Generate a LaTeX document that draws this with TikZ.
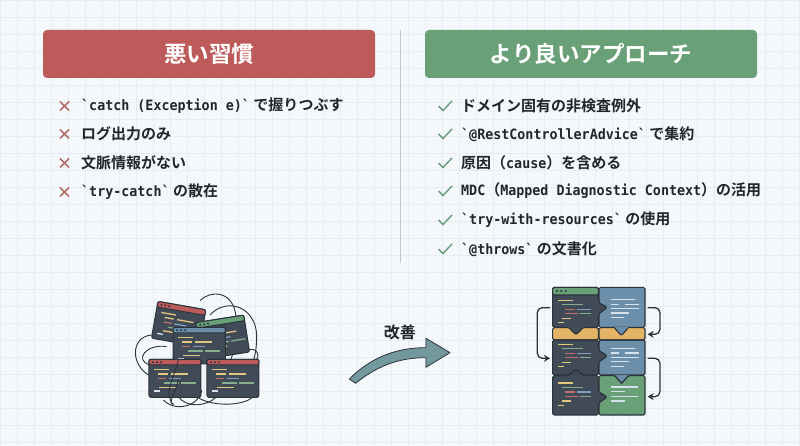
\documentclass[tikz,border=0pt]{standalone}
\usepackage{fontspec}
\newfontfamily\jpb{Noto Sans CJK JP Bold}
\newfontfamily\lat[FakeStretch=0.94]{DejaVu Sans Mono Bold}
\newcommand{\la}[1]{{\lat\fontsize{14.2}{16}\selectfont #1}}
\definecolor{bgc}{HTML}{F4F8FB}
\definecolor{gridc}{HTML}{E6EDF2}
\definecolor{redh}{HTML}{BD5B5B}
\definecolor{greenh}{HTML}{69A077}
\definecolor{blueh}{HTML}{6B8FAB}
\definecolor{orangeh}{HTML}{E3B366}
\definecolor{ink}{HTML}{22262B}
\definecolor{panel}{HTML}{414B57}
\definecolor{edge}{HTML}{2B333B}
\definecolor{crossc}{HTML}{B26C6C}
\definecolor{checkc}{HTML}{6F9F80}
\definecolor{arrowf}{HTML}{73999F}
\definecolor{cy}{HTML}{E3C77E}
\definecolor{cr}{HTML}{C46E6E}
\definecolor{cb}{HTML}{7F9FBD}
\definecolor{cg}{HTML}{87AF8C}
\definecolor{cw}{HTML}{D5E2EC}
\tikzset{
 header/.style={rounded corners=4pt,minimum width=332pt,minimum height=48pt,inner sep=0pt,text=white,font=\jpb\fontsize{22.5}{26}\selectfont},
 item/.style={anchor=west,inner sep=0pt,text=ink,font=\jpb\fontsize{15}{18}\selectfont},
 mark cross/.style={draw=crossc,line width=1.5pt},
 mark check/.style={draw=checkc,line width=1.5pt},
 tangle/.style={draw=edge,line width=0.9pt},
 win/.style={fill=panel,draw=edge,line width=1pt,rounded corners=2pt},
 code/.style={line width=1.3pt},
 loop/.style={draw=#1,line width=1.3pt,rounded corners=5pt,-{Stealth[length=6pt,width=7pt]}},
 loop/.default=edge
}
\usetikzlibrary{arrows.meta}
% window: centre x,y (zoom units) w h colour rotation
\newcommand{\winbox}[6]{%
 \begin{scope}[shift={(#1,#2)},rotate=#6]
  \draw[win] (-#3/2,-#4/2) rectangle (#3/2,#4/2);
  \fill[#5,rounded corners=2pt] (-#3/2,-#4/2) rectangle (#3/2,-#4/2+17);
  \draw[edge,line width=1pt,rounded corners=2pt] (-#3/2,-#4/2+17) -- (-#3/2,-#4/2) -- (#3/2,-#4/2) -- (#3/2,-#4/2+17) -- cycle;
  \foreach \d in {0,1,2}{\fill[edge] (-#3/2+12+\d*12,-#4/2+8.5) circle (1.1pt);}
  \draw[code,cy] (-#3/2+16,-#4/2+31) -- ++(44,0);
  \draw[code,cy] (-#3/2+28,-#4/2+44) -- ++(28,0);
  \draw[code,cy] (-#3/2+66,-#4/2+44) -- ++(50,0);
  \draw[code,cr] (-#3/2+28,-#4/2+58) -- ++(24,0);
  \draw[code,cb] (-#3/2+60,-#4/2+58) -- ++(36,0);
  \draw[code,cg] (-#3/2+44,-#4/2+71) -- ++(46,0);
  \draw[code,cg] (-#3/2+96,-#4/2+71) -- ++(44,0);
  \draw[code,cy] (-#3/2+30,-#4/2+84) -- ++(52,0);
  \draw[code,cw] (-#3/2+14,-#4/2+95) -- ++(18,0);
 \end{scope}}
\newcommand{\codeset}[2]{%
 \begin{scope}[shift={(#1,#2)}]
  \draw[code,cy] (16,0) -- ++(46,0);
  \draw[code,cg] (28,13) -- ++(62,0);
  \draw[code,cr] (36,27) -- ++(32,0);
  \draw[code,cb] (74,27) -- ++(42,0);
  \draw[code,cr] (36,40) -- ++(40,0);
  \draw[code,cg] (82,40) -- ++(32,0);
  \draw[code,cy] (28,54) -- ++(28,0);
  \draw[code,cy] (16,67) -- ++(18,0);
 \end{scope}}
\newcommand{\textset}[3]{%
 \begin{scope}[shift={(#1,#2)}]
  \draw[code,#3] (0,0) -- ++(72,0);
  \draw[code,#3] (0,14) -- ++(26,0);
  \draw[code,#3] (42,14) -- ++(44,0);
  \draw[code,#3] (0,27) -- ++(86,0);
  \draw[code,#3] (0,40) -- ++(56,0);
  \draw[code,#3] (0,54) -- ++(40,0);
 \end{scope}}
\begin{document}
\begin{tikzpicture}[x=1pt,y=-1pt]
\useasboundingbox (0,0) rectangle (800,446);
\fill[bgc] (0,0) rectangle (800,446);
\foreach \g in {0,17,...,800}{\draw[gridc,line width=0.5pt] (\g,0) -- (\g,446);}
\foreach \g in {0,17,...,446}{\draw[gridc,line width=0.5pt] (0,\g) -- (800,\g);}
% headers
\node[header,fill=redh] (badhead) at (209,54) {悪い習慣};
\node[header,fill=greenh] (goodhead) at (591,54) {より良いアプローチ};
\coordinate (divtop) at (400,30);
\coordinate (divbot) at (400,263);
\draw[color=black!22,line width=1pt] (divtop) -- (divbot);
% bad list
\foreach \yy in {106,134,163,192}{
 \draw[mark cross] (60,\yy-4.5) -- (69,\yy+4.5) (69,\yy-4.5) -- (60,\yy+4.5);
}
\node[item] (b1) at (81,106) {\la{`catch (Exception e)`} で握りつぶす};
\node[item] (b2) at (81,134) {ログ出力のみ};
\node[item] (b3) at (81,163) {文脈情報がない};
\node[item] (b4) at (81,192) {\la{`try-catch`} の散在};
% good list
\foreach \yy in {106,134,163,191,220,249}{
 \draw[mark check] (438.5,\yy) -- (443,\yy+4.5) -- (452,\yy-5);
}
\node[item] (g1) at (461,106) {ドメイン固有の非検査例外};
\node[item] (g2) at (461,134) {\la{`@RestControllerAdvice`} で集約};
\node[item] (g3) at (461,163) {原因（\la{cause}）を含める};
\node[item] (g4) at (461,191) {\la{MDC}（\la{Mapped Diagnostic Context}）の活用};
\node[item] (g5) at (461,220) {\la{`try-with-resources`} の使用};
\node[item] (g6) at (461,249) {\la{`@throws`} の文書化};
% tangled windows
\begin{scope}[shift={(110,280)},x=0.3333pt,y=-0.3333pt]
 \draw[tangle] (270,62) .. controls (300,30) and (370,30) .. (378,110) .. controls (385,190) and (360,250) .. (350,270);
 \draw[tangle] (300,105) .. controls (350,50) and (440,80) .. (440,170) .. controls (440,240) and (420,300) .. (350,320);
 \draw[tangle] (125,165) .. controls (60,170) and (60,260) .. (125,290);
 \draw[tangle] (170,200) .. controls (110,190) and (70,240) .. (120,255);
 \draw[tangle] (205,350) .. controls (230,385) and (290,380) .. (320,350);
 \draw[tangle] (260,350) .. controls (300,380) and (400,380) .. (430,350);
 \draw[tangle] (400,215) .. controls (450,190) and (450,240) .. (435,240);
 \winbox{206}{132}{146}{112}{redh}{-10}
 \winbox{338}{172}{146}{112}{greenh}{9}
 \winbox{268}{197}{157}{110}{blueh}{0}
 \winbox{195}{295}{156}{114}{redh}{0}
 \winbox{369}{295}{156}{114}{redh}{0}
 \draw[tangle] (205,240) .. controls (190,300) and (160,340) .. (190,375);
 \draw[tangle] (160,360) .. controls (200,400) and (270,375) .. (275,330);
 \draw[tangle] (190,370) .. controls (170,375) and (200,330) .. (205,300);
\end{scope}
% big arrow
\begin{scope}[shift={(340,310)},x=0.3333pt,y=-0.3333pt]
 \filldraw[fill=arrowf,draw=edge,line width=0.8pt,line join=round] (28,207) .. controls (100,135) and (180,113) .. (258,113) -- (258,85) -- (330,128) -- (258,172) -- (258,143) .. controls (190,143) and (120,160) .. (47,220) -- cycle;
 \node[inner sep=0pt,text=ink,font=\jpb\fontsize{16}{18}\selectfont] (kaizen) at (180,66) {改善};
\end{scope}
% puzzle
\begin{scope}[shift={(520,275)},x=0.3333pt,y=-0.3333pt]
 \tikzset{pz/.style={draw=edge,line width=1.1pt,line join=round,rounded corners=1.5pt}}
 % orange band
 \fill[orangeh] (98,158) rectangle (375,195);
 % upper right blue
 \path[pz,fill=blueh] (237,37) -- (375,37) -- (375,157) -- (237,157) -- cycle;
 % mid right blue
 \path[pz,fill=blueh] (237,195) -- (375,195) -- (375,300) -- (237,300) -- cycle;
 % lower right green
 \path[pz,fill=greenh] (237,302) -- (285,302) -- (305,325) -- (325,302) -- (375,302) -- (375,420) -- (237,420) -- cycle;
 \fill[blueh] (287,301) -- (305,323) -- (323,301) -- cycle;
 \draw[edge,line width=1.1pt] (285,302) -- (305,325) -- (325,302);
 % orange cells
 \path[pz] (98,158) rectangle (235,195);
 \path[pz] (237,158) rectangle (375,195);
 % dark panels
 \path[pz,fill=panel] (98,37) -- (235,37) -- (235,82) -- (262,97) -- (235,118) -- (235,157) -- (190,157) -- (168,180) -- (146,157) -- (98,157) -- cycle;
 \path[pz,fill=panel] (98,195) -- (235,195) -- (235,225) -- (262,243) -- (235,262) -- (235,300) -- (190,300) -- (168,282) -- (146,300) -- (98,300) -- cycle;
 \path[pz,fill=panel] (98,302) -- (146,302) -- (168,282) -- (190,302) -- (235,302) -- (235,350) -- (262,366) -- (235,385) -- (235,420) -- (98,420) -- cycle;
 % blue tab into orange
 \path[pz,fill=blueh] (282,157) -- (304,182) -- (326,157) -- cycle;
 \fill[blueh] (284,155) rectangle (324,158);
 % green title
 \path[pz,fill=greenh] (98,60) -- (98,37) -- (235,37) -- (235,60) -- cycle;
 \foreach \d in {0,1,2}{\fill[edge] (111+\d*13,48) circle (1.1pt);}
 \codeset{98}{76}
 \codeset{98}{208}
 \codeset{98}{324}
 \textset{272}{74}{cw}
 \textset{272}{220}{cw}
 \begin{scope}[shift={(272,336)}]
  \draw[code,cw] (0,0) -- ++(82,0);
  \draw[code,cw] (0,14) -- ++(44,0);
  \draw[code,cw] (0,28) -- ++(82,0);
  \draw[code,cw] (0,42) -- ++(44,0);
 \end{scope}
 % loops
 \coordinate (l1a) at (90,98); \coordinate (l1b) at (90,250);
 \coordinate (r1a) at (383,98); \coordinate (r1b) at (383,178);
 \coordinate (r2a) at (383,250); \coordinate (r2b) at (383,365);
 \draw[loop] (l1a) -- (52,98) -- (52,250) -- (l1b);
 \draw[loop] (r1a) -- (420,98) -- (420,178) -- (r1b);
 \draw[loop] (r2a) -- (420,250) -- (420,365) -- (r2b);
\end{scope}
\end{tikzpicture}
\end{document}
